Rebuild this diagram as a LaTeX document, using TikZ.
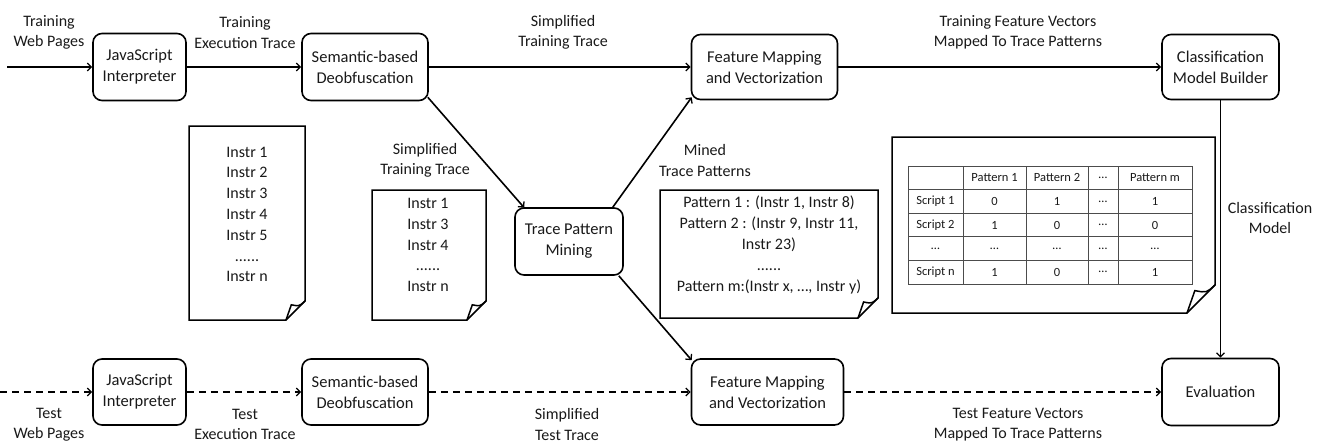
\documentclass[tikz,border=0pt]{standalone}
\usepackage{fontspec}
\setmainfont{Carlito}
\usetikzlibrary{arrows.meta,calc,matrix}
\newcommand{\foldpage}[2]{%
  \draw[docline] (#1.north west) -- (#1.north east) -- ($(#1.south east)+(0,-#2)$) -- ($(#1.south east)+(-#2,0)$) -- (#1.south west) -- cycle;
  \draw[docline] ($(#1.south east)+(0,-#2)$) .. controls ($(#1.south east)+(-0.3*#2,-0.72*#2)$) .. ($(#1.south east)+(-0.72*#2,-0.8*#2)$) -- ($(#1.south east)+(-#2,0)$);
}
\begin{document}
\begin{tikzpicture}[x=1pt,y=-1pt,
  proc/.style={draw, line width=1.6pt, rounded corners=9pt, align=center, text=black!90,
    font=\fontsize{16.5}{21}\selectfont, inner sep=0pt},
  lbl/.style={align=center, text=black!90, font=\fontsize{16}{20.5}\selectfont, inner sep=0pt},
  flow/.style={line width=1.6pt, -{Straight Barb[length=4pt,width=8pt,line width=1.3pt]}},
  testflow/.style={flow, dash pattern=on 7pt off 5pt},
  docline/.style={line width=1.5pt, line join=miter},
  docarea/.style={inner sep=0pt, outer sep=0pt},
  doctext/.style={align=center, text=black!90, font=\fontsize{16}{20.8}\selectfont, inner sep=0pt},
]
\useasboundingbox (0,0) rectangle (1328,444);

% process boxes, training row
\node[proc, minimum width=93pt, minimum height=67pt] (jsi) at (139.5,67) {JavaScript\\Interpreter};
\node[proc, minimum width=126pt, minimum height=67pt] (sem) at (365,67) {Semantic-based\\Deobfuscation};
\node[proc, minimum width=146pt, minimum height=65pt] (fm) at (764.5,67) {Feature Mapping\\and Vectorization};
\node[proc, minimum width=117pt, minimum height=65pt] (cmb) at (1220.5,67) {Classification\\Model Builder};
\node[proc, minimum width=108pt, minimum height=67pt] (tpm) at (569,241.5) {Trace Pattern\\Mining};

% process boxes, test row
\node[proc, minimum width=93pt, minimum height=66pt] (jsi2) at (139.5,392) {JavaScript\\Interpreter};
\node[proc, minimum width=126pt, minimum height=66pt] (sem2) at (365,392) {Semantic-based\\Deobfuscation};
\node[proc, minimum width=152pt, minimum height=66pt] (fm2) at (767.5,392) {Feature Mapping\\and Vectorization};
\node[proc, minimum width=117pt, minimum height=67pt] (eval) at (1220.5,392) {Evaluation};

\coordinate (in1) at (7,67);
\coordinate (in2) at (0,392);

% edge labels
\node[lbl] (l1) at (49,32.5) {Training\\Web Pages};
\node[lbl] (l2) at (245,32.5) {Training\\Execution Trace};
\node[lbl] (l3) at (563,32.5) {Simplified\\Training Trace};
\node[lbl] (l4) at (1018,32.5) {Training Feature Vectors\\Mapped To Trace Patterns};
\node[lbl] (l5) at (49,424.5) {Test\\Web Pages};
\node[lbl] (l6) at (245,424.5) {Test\\Execution Trace};
\node[lbl] (l7) at (567,424.5) {Simplified\\Test Trace};
\node[lbl] (l8) at (1018,424.5) {Test Feature Vectors\\Mapped To Trace Patterns};
\node[lbl] (l9) at (1270,218) {Classification\\Model};
\node[lbl] (l10) at (425,160.5) {Simplified\\Training Trace};
\node[lbl] (l11) at (705,160.5) {Mined\\Trace Patterns};

% training flow
\draw[flow] (in1) -- (jsi);
\draw[flow] (jsi) -- (sem);
\draw[flow] (sem) -- (fm);
\draw[flow] (fm) -- (cmb);
\draw[flow] (cmb) -- (eval);
\draw[flow] ($(sem.south east)+(-1,-4)$) -- ($(tpm.north west)+(10,0.5)$);
\draw[flow] ($(tpm.north east)+(-11,0)$) -- ($(fm.south west)+(1,-3)$);
\draw[flow] ($(tpm.south east)+(-5,0)$) -- ($(fm2.north west)+(1,2)$);

% test flow
\draw[testflow] (in2) -- (jsi2);
\draw[testflow] (jsi2) -- (sem2);
\draw[testflow] (sem2) -- (fm2);
\draw[testflow] (fm2) -- (eval);

% documents
\node[docarea, minimum width=116pt, minimum height=194pt] (doc1) at (247,223) {};
\foldpage{doc1}{19}
\node[doctext] (t1) at (247,214.5) {Instr 1\\Instr 2\\Instr 3\\Instr 4\\Instr 5\\......\\Instr n};

\node[docarea, minimum width=114pt, minimum height=130pt] (doc2) at (429,255) {};
\foldpage{doc2}{19}
\node[doctext] (t2) at (428,245) {Instr 1\\Instr 3\\Instr 4\\......\\Instr n};

\node[docarea, minimum width=218pt, minimum height=128pt] (doc3) at (769,254) {};
\foldpage{doc3}{20}
\node[doctext] (t3) at (769,245) {Pattern 1 : (Instr 1, Instr 8)\\Pattern 2 : (Instr 9, Instr 11,\\Instr 23)\\......\\Pattern m:(Instr x, …, Instr y)};

\node[docarea, minimum width=323pt, minimum height=176pt] (doc4) at (1053.5,225) {};
\foldpage{doc4}{28}

\matrix (tbl) [matrix of nodes, nodes in empty cells,
  nodes={draw=black!70, line width=0.9pt, minimum height=23.6pt, inner sep=0pt, text=black!90,
    font=\fontsize{12.5}{14}\selectfont, anchor=center},
  column sep=-0.9pt, row sep=-0.9pt,
  column 1/.style={nodes={minimum width=55pt}},
  column 2/.style={nodes={minimum width=63pt}},
  column 3/.style={nodes={minimum width=62pt}},
  column 4/.style={nodes={minimum width=30pt}},
  column 5/.style={nodes={minimum width=74pt}}] at (1050,225) {
  & Pattern 1 & Pattern 2 & … & Pattern m \\
  Script 1 & 0 & 1 & … & 1 \\
  Script 2 & 1 & 0 & … & 0 \\
  … & … & … & … & … \\
  Script n & 1 & 0 & … & 1 \\
};
\end{tikzpicture}
\end{document}
